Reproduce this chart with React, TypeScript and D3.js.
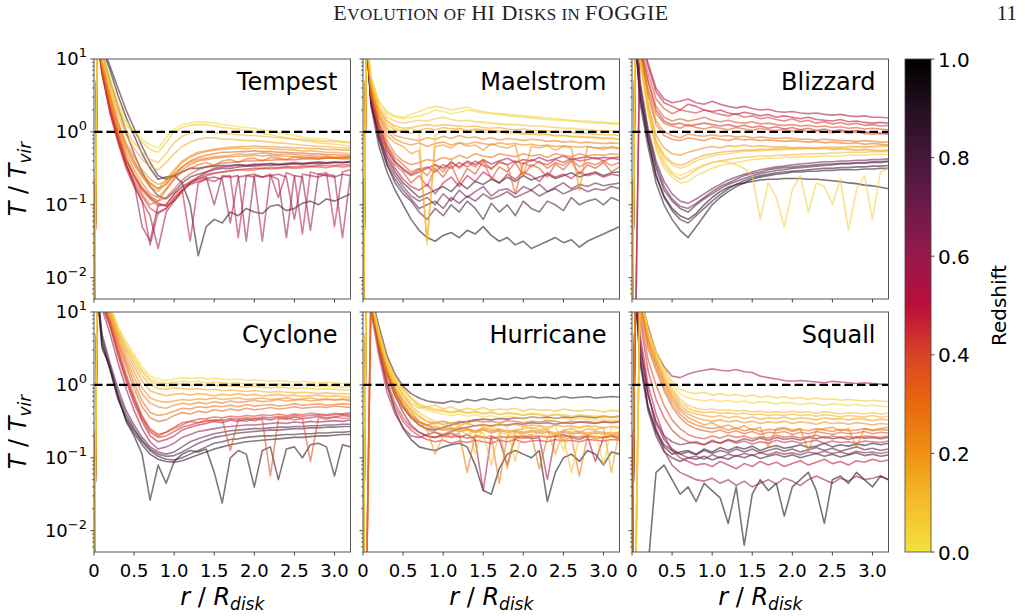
import React from 'react';
import * as d3 from 'd3';

// radius grid shared by every profile, in units of R_disk
const R_GRID = [0, 0.04, 0.1, 0.2, 0.3, 0.4, 0.5, 0.6, 0.7, 0.8, 0.9, 1.0, 1.1, 1.2, 1.3, 1.4, 1.5, 1.6, 1.7,
  1.8, 1.9, 2.0, 2.1, 2.2, 2.3, 2.4, 2.5, 2.6, 2.7, 2.8, 2.9, 3.0, 3.1, 3.2];

// profiles are stored as log10(T / T_vir); one redshift per profile
const tempestZ = [0.02, 0.08, 0.15, 0.2, 0.25, 0.3, 0.4, 0.48, 0.55, 0.62, 0.85, 0.9, 0.75, 0.35, 0.22, 0.28, 0.45, 0.38, 0.12, 0.58];
const tempestLogT = [
  [-3, 1.3, 1.1, 0.75, 0.4, 0.15, 0.02, -0.1, -0.18, -0.22, -0.08, 0.04, 0.1, 0.12, 0.14, 0.13, 0.12, 0.1, 0.09, 0.07, 0.06, 0.05, 0.03, 0.01, -0.01, -0.03, -0.05, -0.07, -0.08, -0.09, -0.1, -0.12, -0.13, -0.14],
  [-3, 1.3, 1.05, 0.7, 0.35, 0.1, -0.02, -0.14, -0.24, -0.28, -0.15, 0.0, 0.06, 0.09, 0.1, 0.1, 0.08, 0.06, 0.05, 0.04, 0.02, 0.0, -0.02, -0.04, -0.06, -0.08, -0.1, -0.12, -0.13, -0.15, -0.16, -0.17, -0.18, -0.2],
  [-3, 1.3, 1.0, 0.6, 0.25, -0.05, -0.22, -0.38, -0.48, -0.52, -0.42, -0.3, -0.2, -0.14, -0.1, -0.08, -0.08, -0.1, -0.1, -0.11, -0.12, -0.12, -0.13, -0.14, -0.15, -0.16, -0.17, -0.18, -0.19, -0.2, -0.2, -0.21, -0.22, -0.22],
  [-3, 1.3, 0.95, 0.55, 0.15, -0.15, -0.35, -0.52, -0.65, -0.72, -0.68, -0.55, -0.42, -0.35, -0.3, -0.27, -0.25, -0.24, -0.23, -0.22, -0.23, -0.22, -0.22, -0.23, -0.24, -0.24, -0.25, -0.26, -0.26, -0.27, -0.28, -0.28, -0.29, -0.3],
  [-3, 1.3, 0.9, 0.45, 0.05, -0.25, -0.45, -0.62, -0.75, -0.82, -0.7, -0.58, -0.48, -0.42, -0.38, -0.36, -0.34, -0.33, -0.32, -0.3, -0.31, -0.3, -0.29, -0.3, -0.31, -0.3, -0.31, -0.32, -0.32, -0.33, -0.33, -0.34, -0.34, -0.35],
  [-3, 1.3, 0.9, 0.4, 0.0, -0.35, -0.6, -0.85, -1.0, -0.95, -0.8, -0.65, -0.55, -0.5, -0.45, -0.42, -0.46, -0.4, -0.38, -0.42, -0.37, -0.36, -0.4, -0.35, -0.36, -0.38, -0.34, -0.36, -0.35, -0.37, -0.34, -0.36, -0.35, -0.34],
  [-3, 1.3, 0.85, 0.3, -0.1, -0.4, -0.62, -0.8, -0.92, -1.02, -1.0, -0.86, -0.75, -0.68, -0.62, -0.58, -0.56, -0.55, -0.54, -0.52, -0.53, -0.52, -0.5, -0.51, -0.5, -0.49, -0.5, -0.49, -0.48, -0.48, -0.49, -0.47, -0.48, -0.47],
  [-3, 1.3, 0.8, 0.25, -0.15, -0.5, -0.75, -0.95, -1.55, -1.1, -1.05, -0.9, -0.8, -1.5, -0.7, -0.65, -0.68, -0.62, -0.6, -1.45, -0.6, -0.58, -0.62, -0.58, -0.9, -0.56, -0.6, -1.4, -0.55, -0.58, -0.56, -1.3, -0.55, -0.52],
  [-3, 1.3, 0.85, 0.35, -0.05, -0.38, -0.6, -0.78, -0.9, -0.98, -1.02, -0.95, -0.82, -0.7, -0.62, -0.55, -0.5, -0.48, -0.47, -0.45, -0.46, -0.44, -0.45, -0.43, -0.44, -0.43, -0.42, -0.43, -0.42, -0.41, -0.42, -0.41, -0.42, -0.4],
  [-3, 1.3, 0.8, 0.3, -0.1, -0.45, -0.7, -1.3, -1.5, -1.0, -1.0, -0.85, -0.75, -0.7, -0.65, -0.62, -1.0, -0.6, -0.62, -0.6, -1.5, -0.6, -0.62, -0.6, -0.65, -1.45, -0.6, -0.62, -1.35, -0.58, -0.6, -0.62, -0.58, -0.6],
  [-3, 1.3, 1.2, 0.9, 0.6, 0.3, 0.05, -0.2, -0.42, -0.6, -0.65, -0.6, -0.55, -0.5, -0.5, -0.48, -0.47, -0.46, -0.46, -0.45, -0.46, -0.45, -0.44, -0.44, -0.45, -0.44, -0.43, -0.44, -0.43, -0.42, -0.43, -0.42, -0.42, -0.41],
  [-3, 1.3, 1.15, 0.85, 0.5, 0.2, -0.05, -0.3, -0.5, -0.65, -0.62, -0.6, -0.7, -1.0, -1.7, -1.3, -1.2, -1.25, -1.1, -1.15, -1.05, -1.1, -1.12, -1.02, -1.0, -1.08, -1.05, -0.98, -0.95, -1.0, -0.92, -0.95, -0.9, -0.85],
  [-3, 1.3, 1.1, 0.7, 0.35, 0.0, -0.3, -0.55, -0.75, -0.88, -0.92, -0.82, -0.7, -0.62, -0.58, -0.55, -0.52, -0.5, -0.5, -0.48, -0.47, -0.47, -0.46, -0.46, -0.45, -0.45, -0.44, -0.44, -0.43, -0.44, -0.43, -0.42, -0.42, -0.42],
  [-3, 1.3, 0.9, 0.5, 0.12, -0.18, -0.4, -0.58, -0.7, -0.78, -0.72, -0.6, -0.48, -0.4, -0.35, -0.32, -0.3, -0.28, -0.28, -0.27, -0.27, -0.26, -0.27, -0.27, -0.28, -0.28, -0.29, -0.29, -0.3, -0.3, -0.31, -0.31, -0.32, -0.32],
  [-3, 1.3, 0.95, 0.5, 0.1, -0.2, -0.42, -0.6, -0.72, -0.78, -0.66, -0.52, -0.4, -0.33, -0.28, -0.26, -0.24, -0.22, -0.21, -0.2, -0.2, -0.19, -0.2, -0.2, -0.21, -0.21, -0.22, -0.22, -0.23, -0.23, -0.24, -0.24, -0.25, -0.25],
  [-3, 1.3, 0.9, 0.42, 0.02, -0.3, -0.52, -0.7, -0.85, -0.9, -0.78, -0.64, -0.52, -0.45, -0.4, -0.38, -0.36, -0.35, -0.34, -0.33, -0.33, -0.32, -0.33, -0.32, -0.33, -0.33, -0.34, -0.34, -0.35, -0.35, -0.36, -0.36, -0.37, -0.37],
  [-3, 1.3, 0.85, 0.3, -0.12, -0.45, -0.68, -0.88, -1.05, -1.12, -1.05, -0.92, -0.8, -0.7, -0.64, -0.6, -0.57, -0.55, -0.53, -0.52, -0.51, -0.5, -0.5, -0.49, -0.49, -0.48, -0.48, -0.47, -0.47, -0.46, -0.46, -0.46, -0.45, -0.45],
  [-3, 1.3, 0.88, 0.35, -0.05, -0.38, -0.58, -0.76, -0.88, -0.95, -0.9, -0.78, -0.66, -0.58, -0.52, -0.48, -0.45, -0.43, -0.42, -0.41, -0.4, -0.4, -0.39, -0.39, -0.38, -0.38, -0.38, -0.37, -0.37, -0.37, -0.36, -0.36, -0.36, -0.35],
  [-3, 1.3, 1.0, 0.65, 0.3, 0.02, -0.15, -0.28, -0.38, -0.42, -0.3, -0.15, -0.06, -0.02, 0.0, 0.0, -0.01, -0.02, -0.03, -0.04, -0.05, -0.05, -0.06, -0.07, -0.08, -0.09, -0.1, -0.1, -0.11, -0.12, -0.13, -0.13, -0.14, -0.15],
  [-3, 1.3, 0.82, 0.28, -0.1, -0.45, -0.72, -0.95, -1.15, -1.6, -1.1, -0.95, -0.8, -0.72, -0.68, -0.64, -0.62, -0.65, -1.25, -0.62, -0.6, -0.62, -1.5, -0.6, -0.58, -0.62, -1.2, -0.58, -0.6, -0.62, -0.58, -0.6, -1.45, -0.58],
];

const maelstromZ = [0.03, 0.1, 0.18, 0.22, 0.3, 0.4, 0.5, 0.58, 0.7, 0.82, 0.92, 0.88, 0.08, 0.25, 0.05, 0.15, 0.35, 0.45, 0.75, 0.25];
const maelstromLogT = [
  [-3, 1.3, 0.75, 0.4, 0.25, 0.2, 0.18, 0.2, 0.22, 0.25, 0.3, 0.28, 0.25, 0.27, 0.3, 0.28, 0.26, 0.25, 0.24, 0.22, 0.21, 0.2, 0.19, 0.18, 0.17, 0.16, 0.16, 0.15, 0.14, 0.13, 0.12, 0.12, 0.11, 0.1],
  [-3, 1.3, 0.7, 0.35, 0.2, 0.15, 0.12, 0.14, 0.16, 0.15, 0.18, 0.2, 0.17, 0.15, 0.16, 0.14, 0.13, 0.12, 0.11, 0.1, 0.1, 0.09, 0.08, 0.08, 0.07, 0.06, 0.05, 0.05, 0.04, 0.03, 0.02, 0.02, 0.01, 0.0],
  [-3, 1.3, 0.65, 0.3, 0.1, 0.02, 0.0, -0.02, 0.02, 0.05, 0.03, 0.06, 0.04, 0.05, 0.02, 0.04, 0.03, 0.02, 0.0, 0.01, -0.01, -0.02, -0.03, -0.02, -0.04, -0.05, -0.05, -0.06, -0.07, -0.07, -0.08, -0.09, -0.09, -0.1],
  [-3, 1.3, 0.6, 0.2, -0.05, -0.15, -0.2, -0.3, -0.25, -1.5, -0.2, -0.18, -0.22, -0.15, -0.2, -0.18, -0.25, -0.16, -0.2, -0.22, -0.18, -0.6, -0.2, -0.22, -0.19, -0.25, -0.2, -0.22, -0.8, -0.2, -0.22, -0.24, -0.2, -0.22],
  [-3, 1.3, 0.55, 0.15, -0.12, -0.3, -0.4, -0.45, -0.42, -0.38, -0.4, -0.35, -0.38, -0.32, -0.36, -0.3, -0.33, -0.35, -0.3, -0.32, -0.34, -0.3, -0.33, -0.31, -0.35, -0.3, -0.32, -0.34, -0.3, -0.33, -0.31, -0.32, -0.3, -0.31],
  [-3, 1.3, 0.5, 0.05, -0.25, -0.45, -0.55, -0.7, -0.6, -0.75, -0.5, -0.62, -0.45, -0.7, -0.5, -0.58, -0.4, -0.65, -0.48, -0.55, -0.42, -0.6, -0.45, -0.5, -0.62, -0.44, -0.52, -0.4, -0.58, -0.45, -0.5, -0.42, -0.55, -0.48],
  [-3, 1.3, 0.5, 0.0, -0.3, -0.5, -0.65, -0.75, -0.8, -0.72, -0.85, -0.7, -0.62, -0.75, -0.6, -0.68, -0.55, -0.62, -0.7, -0.58, -0.65, -0.55, -0.6, -0.68, -0.56, -0.62, -0.58, -0.64, -0.55, -0.6, -0.57, -0.62, -0.58, -0.6],
  [-3, 1.3, 0.55, 0.1, -0.2, -0.4, -0.52, -0.6, -0.55, -0.5, -0.45, -0.5, -0.42, -0.48, -0.4, -0.45, -0.38, -0.44, -0.4, -0.36, -0.42, -0.38, -0.4, -0.35, -0.4, -0.37, -0.33, -0.38, -0.36, -0.34, -0.37, -0.35, -0.36, -0.34],
  [-3, 1.3, 0.45, -0.05, -0.4, -0.6, -0.75, -0.88, -0.95, -0.9, -1.0, -0.85, -0.95, -0.8, -0.9, -0.82, -0.75, -0.88, -0.8, -0.78, -0.85, -0.75, -0.8, -0.72, -0.82, -0.76, -0.7, -0.78, -0.72, -0.75, -0.7, -0.74, -0.72, -0.7],
  [-3, 1.3, 0.4, -0.1, -0.45, -0.7, -0.85, -0.95, -1.1, -1.2, -1.05, -1.15, -1.0, -1.1, -0.95, -1.05, -1.2, -0.98, -1.1, -1.0, -1.15, -0.95, -1.05, -1.1, -0.95, -1.0, -1.08, -0.9, -1.0, -0.95, -0.92, -1.0, -0.9, -0.95],
  [-3, 1.3, 0.35, -0.2, -0.55, -0.8, -1.0, -1.2, -1.35, -1.45, -1.5, -1.42, -1.38, -1.45, -1.35, -1.4, -1.3, -1.42, -1.5, -1.45, -1.55, -1.5, -1.6, -1.55, -1.5, -1.45, -1.52, -1.48, -1.58, -1.5, -1.45, -1.4, -1.35, -1.3],
  [-3, 1.3, 0.4, -0.05, -0.35, -0.55, -0.7, -0.8, -0.9, -0.85, -0.8, -0.75, -0.82, -0.7, -0.78, -0.68, -0.72, -0.65, -0.7, -0.62, -0.68, -0.6, -0.66, -0.62, -0.58, -0.64, -0.6, -0.56, -0.62, -0.58, -0.55, -0.6, -0.56, -0.55],
  [-3, 1.3, 0.7, 0.3, 0.15, 0.05, 0.02, 0.05, 0.0, -1.55, -0.05, 0.02, 0.0, 0.05, -0.02, 0.03, 0.0, -0.02, 0.01, -0.03, -0.01, -0.04, -0.02, -0.05, -0.03, -0.06, -0.05, -0.07, -0.06, -0.08, -0.07, -0.09, -0.08, -0.1],
  [-3, 1.3, 0.6, 0.25, 0.05, -0.05, -0.08, -0.1, -0.12, -0.08, -0.1, -0.06, -0.09, -0.05, -0.08, -0.07, -0.1, -0.08, -0.11, -0.09, -0.1, -0.12, -0.1, -0.11, -0.13, -0.12, -0.14, -0.13, -0.15, -0.14, -0.15, -0.16, -0.15, -0.16],
  [-3, 1.3, 0.75, 0.42, 0.28, 0.22, 0.2, 0.24, 0.28, 0.32, 0.35, 0.33, 0.3, 0.32, 0.34, 0.3, 0.28, 0.26, 0.25, 0.24, 0.23, 0.22, 0.21, 0.2, 0.19, 0.18, 0.17, 0.16, 0.15, 0.15, 0.14, 0.13, 0.12, 0.12],
  [-3, 1.3, 0.68, 0.32, 0.15, 0.08, 0.05, 0.06, 0.08, 0.1, 0.08, 0.1, 0.09, 0.08, 0.07, 0.08, 0.06, 0.05, 0.06, 0.04, 0.03, 0.04, 0.02, 0.02, 0.01, 0.0, 0.0, -0.01, -0.02, -0.02, -0.03, -0.04, -0.04, -0.05],
  [-3, 1.3, 0.52, 0.1, -0.18, -0.35, -0.45, -0.55, -0.5, -0.6, -0.45, -0.55, -0.4, -0.5, -0.42, -0.48, -0.38, -0.52, -0.4, -0.45, -0.85, -0.42, -0.48, -0.4, -0.5, -0.42, -0.46, -0.38, -0.48, -0.42, -0.45, -0.4, -0.46, -0.42],
  [-3, 1.3, 0.5, 0.05, -0.25, -0.42, -0.5, -0.58, -0.52, -0.48, -0.55, -0.45, -0.5, -0.42, -0.48, -0.4, -0.46, -0.5, -0.42, -0.45, -0.4, -0.44, -0.38, -0.42, -0.45, -0.38, -0.42, -0.36, -0.4, -0.38, -0.35, -0.4, -0.36, -0.38],
  [-3, 1.3, 0.42, -0.1, -0.45, -0.65, -0.8, -0.92, -1.05, -1.0, -0.95, -1.05, -0.9, -0.98, -0.88, -0.95, -0.85, -0.92, -0.88, -0.82, -0.9, -0.85, -0.8, -0.88, -0.82, -0.78, -0.85, -0.8, -0.76, -0.82, -0.78, -0.8, -0.75, -0.78],
  [-3, 1.3, 0.6, 0.22, 0.0, -0.1, -0.15, -0.18, -0.15, -0.2, -0.16, -0.14, -0.18, -0.15, -0.17, -0.14, -0.16, -0.18, -0.15, -0.17, -0.16, -0.18, -0.17, -0.19, -0.18, -0.2, -0.19, -0.2, -0.21, -0.2, -0.22, -0.21, -0.22, -0.23],
];

const blizzardZ = [0.42, 0.5, 0.35, 0.3, 0.22, 0.12, 0.05, 0.05, 0.8, 0.9, 0.95, 0.7, 0.45, 0.08, 0.38, 0.28, 0.18, 0.85, 0.75, 0.55];
const blizzardLogT = [
  [-3, 1.3, 1.2, 0.8, 0.45, 0.32, 0.25, 0.3, 0.28, 0.26, 0.3, 0.27, 0.24, 0.22, 0.25, 0.2, 0.22, 0.18, 0.2, 0.17, 0.15, 0.18, 0.14, 0.16, 0.12, 0.14, 0.11, 0.13, 0.1, 0.12, 0.09, 0.1, 0.08, 0.09],
  [-3, -3, 1.3, 0.9, 0.55, 0.4, 0.35, 0.3, 0.38, 0.35, 0.3, 0.28, 0.3, 0.26, 0.24, 0.27, 0.25, 0.22, 0.24, 0.2, 0.22, 0.2, 0.18, 0.2, 0.17, 0.16, 0.15, 0.17, 0.14, 0.15, 0.13, 0.12, 0.13, 0.12],
  [-3, 1.3, 1.1, 0.6, 0.25, 0.12, 0.08, 0.05, 0.1, 0.06, 0.04, 0.07, 0.05, 0.03, 0.06, 0.04, 0.02, 0.05, 0.03, 0.02, 0.04, 0.01, 0.03, 0.0, 0.02, 0.0, -0.01, 0.01, -0.02, 0.0, -0.02, -0.03, -0.02, -0.03],
  [-3, 1.3, 1.1, 0.5, 0.1, -0.05, -0.1, -0.12, -0.08, -0.1, -0.12, -0.08, -0.1, -0.12, -0.09, -0.11, -0.1, -0.12, -0.11, -0.12, -0.13, -0.12, -0.13, -0.14, -0.13, -0.15, -0.14, -0.15, -0.16, -0.15, -0.17, -0.16, -0.17, -0.18],
  [-3, 1.3, 1.05, 0.4, -0.05, -0.22, -0.3, -0.32, -0.28, -0.25, -0.22, -0.2, -0.22, -0.19, -0.2, -0.18, -0.2, -0.19, -0.2, -0.21, -0.2, -0.22, -0.21, -0.22, -0.23, -0.22, -0.24, -0.23, -0.24, -0.25, -0.24, -0.25, -0.26, -0.25],
  [-3, 1.3, 1.0, 0.3, -0.2, -0.45, -0.58, -0.65, -0.6, -0.52, -0.46, -0.42, -0.4, -0.38, -0.36, -0.35, -0.34, -0.33, -0.33, -0.32, -0.32, -0.31, -0.31, -0.3, -0.3, -0.3, -0.29, -0.29, -0.28, -0.28, -0.28, -0.27, -0.27, -0.27],
  [-3, 1.3, 0.95, 0.25, -0.25, -0.5, -0.62, -0.7, -0.68, -0.6, -0.55, -0.5, -0.46, -0.44, -0.42, -0.4, -0.38, -0.37, -0.36, -0.36, -0.35, -0.35, -0.34, -0.34, -0.34, -0.33, -0.33, -0.33, -0.32, -0.32, -0.32, -0.31, -0.31, -0.31],
  [-3, 1.3, 1.0, 0.35, -0.15, -0.4, -0.55, -0.6, -0.55, -0.5, -0.45, -0.42, -0.4, -0.42, -0.45, -0.5, -0.6, -1.2, -0.7, -0.9, -1.3, -0.8, -0.6, -1.1, -0.7, -0.75, -1.0, -0.65, -1.35, -0.8, -0.6, -1.2, -0.55, -0.5],
  [-3, 1.3, 0.6, -0.05, -0.5, -0.8, -0.95, -1.05, -1.1, -1.0, -0.92, -0.85, -0.78, -0.72, -0.68, -0.64, -0.6, -0.57, -0.55, -0.53, -0.52, -0.5, -0.49, -0.48, -0.47, -0.46, -0.45, -0.44, -0.44, -0.43, -0.43, -0.42, -0.42, -0.41],
  [-3, 1.3, 0.4, -0.2, -0.7, -1.0, -1.2, -1.35, -1.45, -1.3, -1.15, -1.0, -0.9, -0.82, -0.75, -0.7, -0.65, -0.62, -0.6, -0.58, -0.57, -0.55, -0.55, -0.54, -0.54, -0.53, -0.53, -0.52, -0.52, -0.52, -0.51, -0.51, -0.5, -0.5],
  [-3, 1.3, 0.5, -0.1, -0.6, -0.88, -1.05, -1.15, -1.2, -1.12, -1.0, -0.9, -0.82, -0.76, -0.72, -0.7, -0.68, -0.66, -0.65, -0.65, -0.64, -0.64, -0.64, -0.65, -0.65, -0.66, -0.67, -0.68, -0.7, -0.71, -0.73, -0.74, -0.76, -0.78],
  [-3, 1.3, 0.7, 0.05, -0.4, -0.68, -0.85, -0.95, -0.98, -0.92, -0.85, -0.78, -0.72, -0.66, -0.62, -0.58, -0.55, -0.52, -0.5, -0.48, -0.47, -0.45, -0.44, -0.43, -0.42, -0.41, -0.41, -0.4, -0.4, -0.39, -0.39, -0.38, -0.38, -0.37],
  [-3, 1.3, 1.15, 0.7, 0.3, 0.15, 0.1, 0.12, 0.08, 0.1, 0.12, 0.1, 0.08, 0.1, 0.07, 0.09, 0.06, 0.08, 0.05, 0.07, 0.04, 0.06, 0.03, 0.05, 0.02, 0.04, 0.01, 0.03, 0.0, 0.02, -0.01, 0.0, -0.02, -0.02],
  [-3, 1.3, 1.0, 0.3, -0.15, -0.35, -0.45, -0.5, -0.46, -0.4, -0.36, -0.33, -0.31, -0.3, -0.28, -0.27, -0.26, -0.26, -0.25, -0.25, -0.24, -0.24, -0.24, -0.23, -0.23, -0.23, -0.22, -0.22, -0.22, -0.21, -0.21, -0.21, -0.2, -0.2],
  [-3, 1.3, 1.15, 0.7, 0.35, 0.2, 0.15, 0.18, 0.15, 0.17, 0.2, 0.16, 0.14, 0.16, 0.13, 0.12, 0.14, 0.11, 0.12, 0.1, 0.09, 0.1, 0.08, 0.09, 0.07, 0.08, 0.06, 0.07, 0.05, 0.06, 0.04, 0.05, 0.04, 0.03],
  [-3, 1.3, 1.1, 0.55, 0.15, 0.0, -0.05, -0.08, -0.03, -0.05, -0.06, -0.04, -0.06, -0.05, -0.07, -0.06, -0.08, -0.07, -0.08, -0.09, -0.08, -0.09, -0.1, -0.1, -0.11, -0.1, -0.11, -0.12, -0.12, -0.13, -0.12, -0.13, -0.14, -0.14],
  [-3, 1.3, 1.02, 0.35, -0.12, -0.32, -0.42, -0.46, -0.42, -0.36, -0.32, -0.3, -0.28, -0.27, -0.26, -0.25, -0.25, -0.24, -0.24, -0.23, -0.23, -0.23, -0.22, -0.22, -0.22, -0.21, -0.21, -0.21, -0.2, -0.2, -0.2, -0.2, -0.19, -0.19],
  [-3, 1.3, 0.5, -0.12, -0.6, -0.9, -1.08, -1.2, -1.25, -1.15, -1.05, -0.95, -0.86, -0.78, -0.72, -0.67, -0.63, -0.6, -0.58, -0.56, -0.55, -0.54, -0.53, -0.52, -0.51, -0.5, -0.5, -0.49, -0.49, -0.48, -0.48, -0.47, -0.47, -0.46],
  [-3, 1.3, 0.65, 0.0, -0.45, -0.75, -0.92, -1.02, -1.05, -0.98, -0.9, -0.82, -0.75, -0.7, -0.65, -0.6, -0.57, -0.55, -0.52, -0.5, -0.49, -0.48, -0.47, -0.46, -0.45, -0.44, -0.44, -0.43, -0.43, -0.42, -0.42, -0.41, -0.41, -0.4],
  [-3, -3, 1.3, 0.95, 0.6, 0.45, 0.4, 0.42, 0.45, 0.4, 0.38, 0.42, 0.38, 0.35, 0.33, 0.35, 0.32, 0.3, 0.31, 0.28, 0.27, 0.28, 0.26, 0.25, 0.26, 0.24, 0.23, 0.24, 0.22, 0.21, 0.22, 0.2, 0.2, 0.19],
];

const cycloneZ = [0.03, 0.1, 0.18, 0.25, 0.32, 0.42, 0.52, 0.62, 0.85, 0.92, 0.75, 0.38, 0.15, 0.06, 0.22, 0.3, 0.45, 0.8, 0.9];
const cycloneLogT = [
  [-3, 1.3, 1.3, 1.1, 0.8, 0.6, 0.42, 0.25, 0.12, 0.08, 0.06, 0.08, 0.1, 0.09, 0.1, 0.08, 0.09, 0.08, 0.07, 0.08, 0.06, 0.07, 0.06, 0.05, 0.06, 0.05, 0.04, 0.05, 0.04, 0.03, 0.04, 0.03, 0.02, 0.02],
  [-3, 1.3, 1.3, 1.05, 0.75, 0.52, 0.35, 0.18, 0.05, 0.0, -0.02, 0.0, 0.02, 0.0, 0.01, -0.01, 0.0, -0.02, -0.01, -0.02, -0.03, -0.02, -0.03, -0.04, -0.03, -0.04, -0.05, -0.04, -0.05, -0.06, -0.05, -0.06, -0.07, -0.07],
  [-3, 1.3, 1.25, 1.0, 0.7, 0.45, 0.25, 0.05, -0.08, -0.12, -0.15, -0.13, -0.12, -0.14, -0.12, -0.13, -0.15, -0.13, -0.14, -0.12, -0.14, -0.13, -0.15, -0.14, -0.13, -0.15, -0.14, -0.16, -0.15, -0.14, -0.16, -0.15, -0.16, -0.17],
  [-3, 1.3, 1.2, 0.95, 0.62, 0.35, 0.1, -0.12, -0.25, -0.3, -0.32, -0.28, -0.25, -0.27, -0.24, -0.26, -0.23, -0.25, -0.22, -0.24, -0.23, -0.21, -0.23, -0.22, -0.2, -0.22, -0.21, -0.2, -0.22, -0.21, -0.2, -0.21, -0.2, -0.22],
  [-3, 1.3, 1.2, 0.9, 0.55, 0.25, -0.05, -0.3, -0.45, -0.5, -0.48, -0.42, -0.38, -0.4, -0.36, -0.38, -0.34, -0.36, -0.33, -0.35, -0.32, -0.34, -0.33, -0.31, -0.33, -0.32, -0.3, -0.32, -0.31, -0.3, -0.31, -0.29, -0.3, -0.31],
  [-3, 1.3, 1.15, 0.85, 0.5, 0.15, -0.15, -0.42, -0.6, -0.68, -0.65, -0.58, -0.52, -0.5, -0.47, -0.46, -0.44, -0.45, -0.43, -0.44, -0.42, -0.43, -0.41, -0.42, -0.4, -0.42, -0.4, -0.41, -0.39, -0.4, -0.41, -0.39, -0.4, -0.38],
  [-3, 1.3, 1.1, 0.8, 0.4, 0.05, -0.25, -0.5, -0.7, -0.78, -0.75, -0.7, -0.62, -0.58, -0.55, -0.53, -0.5, -0.52, -0.48, -0.5, -0.47, -0.49, -0.46, -0.48, -0.45, -0.47, -0.44, -0.46, -0.45, -0.43, -0.45, -0.44, -0.42, -0.43],
  [-3, 1.3, 1.05, 0.7, 0.3, -0.05, -0.35, -0.6, -0.78, -0.88, -0.85, -0.8, -0.72, -0.68, -0.64, -0.62, -0.6, -0.58, -0.57, -0.56, -0.55, -0.55, -0.54, -0.53, -0.52, -0.53, -0.51, -0.52, -0.5, -0.51, -0.5, -0.49, -0.5, -0.48],
  [-3, 1.3, 0.6, 0.2, -0.2, -0.45, -0.62, -0.78, -0.9, -0.98, -1.02, -1.03, -1.0, -0.95, -0.9, -0.85, -0.8, -0.78, -0.75, -0.74, -0.72, -0.71, -0.7, -0.7, -0.69, -0.68, -0.68, -0.67, -0.67, -0.66, -0.66, -0.65, -0.65, -0.64],
  [-3, 1.3, 0.5, 0.25, -0.15, -0.5, -0.7, -0.95, -1.58, -1.1, -1.35, -1.05, -0.95, -0.9, -0.92, -0.88, -1.2, -1.62, -1.0, -0.9, -0.95, -1.4, -0.9, -0.85, -1.3, -0.88, -0.85, -1.0, -0.82, -0.8, -0.85, -1.25, -0.82, -0.85],
  [-3, 1.3, 0.7, 0.3, -0.05, -0.35, -0.55, -0.72, -0.85, -0.92, -0.95, -0.92, -0.85, -0.78, -0.74, -0.7, -0.67, -0.65, -0.63, -0.62, -0.61, -0.6, -0.6, -0.59, -0.58, -0.58, -0.57, -0.57, -0.56, -0.56, -0.55, -0.55, -0.54, -0.54],
  [-3, 1.3, 1.15, 0.85, 0.45, 0.1, -0.2, -0.45, -0.62, -0.7, -0.65, -0.6, -0.55, -0.5, -0.52, -0.48, -0.5, -0.47, -0.9, -0.48, -0.5, -0.46, -0.48, -1.25, -0.47, -0.45, -0.48, -0.46, -1.05, -0.45, -0.47, -0.44, -0.46, -0.45],
  [-3, 1.3, 1.3, 1.05, 0.72, 0.5, 0.3, 0.12, 0.0, -0.05, -0.06, -0.04, -0.05, -0.06, -0.05, -0.07, -0.06, -0.08, -0.07, -0.08, -0.09, -0.08, -0.09, -0.1, -0.09, -0.1, -0.11, -0.1, -0.11, -0.12, -0.11, -0.12, -0.12, -0.13],
  [-3, 1.3, 1.3, 1.08, 0.78, 0.56, 0.38, 0.2, 0.08, 0.04, 0.02, 0.04, 0.05, 0.04, 0.05, 0.03, 0.04, 0.03, 0.02, 0.03, 0.01, 0.02, 0.01, 0.0, 0.01, 0.0, -0.01, 0.0, -0.01, -0.02, -0.01, -0.02, -0.03, -0.03],
  [-3, 1.3, 1.22, 0.98, 0.66, 0.4, 0.18, -0.04, -0.18, -0.22, -0.24, -0.22, -0.2, -0.21, -0.19, -0.2, -0.18, -0.2, -0.19, -0.18, -0.2, -0.19, -0.18, -0.2, -0.19, -0.18, -0.2, -0.19, -0.18, -0.2, -0.19, -0.2, -0.19, -0.2],
  [-3, 1.3, 1.18, 0.9, 0.58, 0.3, 0.02, -0.22, -0.38, -0.42, -0.4, -0.36, -0.32, -0.33, -0.3, -0.31, -0.29, -0.3, -0.28, -0.3, -0.27, -0.29, -0.28, -0.27, -0.29, -0.28, -0.26, -0.28, -0.27, -0.26, -0.28, -0.27, -0.26, -0.27],
  [-3, 1.3, 1.12, 0.82, 0.45, 0.1, -0.2, -0.46, -0.65, -0.72, -0.7, -0.64, -0.58, -0.55, -0.52, -0.5, -0.48, -0.49, -0.46, -0.47, -0.45, -0.46, -0.44, -0.45, -0.43, -0.44, -0.42, -0.43, -0.42, -0.41, -0.42, -0.41, -0.4, -0.41],
  [-3, 1.3, 0.65, 0.25, -0.12, -0.4, -0.6, -0.76, -0.88, -0.95, -0.98, -0.97, -0.92, -0.86, -0.8, -0.76, -0.72, -0.7, -0.68, -0.66, -0.65, -0.64, -0.63, -0.62, -0.62, -0.61, -0.6, -0.6, -0.59, -0.59, -0.58, -0.58, -0.57, -0.57],
  [-3, 1.3, 0.55, 0.22, -0.18, -0.48, -0.66, -0.82, -0.95, -1.02, -1.05, -1.06, -1.04, -1.0, -0.96, -0.92, -0.88, -0.85, -0.82, -0.8, -0.78, -0.77, -0.76, -0.75, -0.74, -0.73, -0.72, -0.72, -0.71, -0.7, -0.7, -0.69, -0.68, -0.68],
];

const hurricaneZ = [0.03, 0.08, 0.15, 0.22, 0.28, 0.35, 0.45, 0.55, 0.7, 0.85, 0.95, 0.12, 0.18, 0.05, 0.2, 0.1, 0.3, 0.42, 0.78];
const hurricaneLogT = [
  [-3, 1.3, 1.2, 0.7, 0.3, 0.08, -0.08, -0.2, -0.3, -0.35, -0.38, -0.4, -0.42, -0.4, -0.43, -0.41, -0.44, -0.42, -0.45, -0.43, -0.44, -0.46, -0.44, -0.45, -0.47, -0.45, -0.46, -0.48, -0.46, -0.47, -0.48, -0.47, -0.49, -0.48],
  [-3, 1.3, 1.15, 0.65, 0.25, 0.02, -0.15, -0.28, -0.38, -0.45, -0.5, -0.55, -0.52, -0.58, -0.5, -0.95, -0.55, -0.6, -0.52, -0.58, -1.05, -0.55, -0.6, -0.57, -0.62, -0.55, -0.9, -0.58, -0.6, -0.56, -0.62, -1.1, -0.58, -0.6],
  [-3, 1.3, 1.2, 0.75, 0.35, 0.12, -0.05, -0.18, -0.28, -0.32, -0.35, -0.36, -0.38, -0.36, -0.39, -0.37, -0.4, -0.38, -0.41, -0.39, -0.4, -0.42, -0.4, -0.41, -0.43, -0.41, -0.42, -0.44, -0.42, -0.43, -0.44, -0.43, -0.45, -0.44],
  [-3, 1.3, 1.1, 0.6, 0.2, -0.05, -0.25, -0.4, -0.5, -0.55, -0.58, -0.6, -0.58, -0.62, -0.6, -0.63, -0.6, -0.64, -0.61, -0.63, -0.62, -0.65, -0.62, -0.64, -0.63, -0.66, -0.63, -0.65, -0.64, -0.66, -0.64, -0.65, -0.66, -0.65],
  [-3, -3, 1.3, 0.55, 0.15, -0.1, -0.3, -0.45, -0.55, -0.62, -0.65, -0.68, -0.7, -0.66, -1.2, -0.68, -0.72, -0.7, -1.35, -0.7, -0.74, -0.72, -0.68, -1.15, -0.72, -0.7, -0.75, -0.72, -1.25, -0.7, -0.74, -0.72, -0.7, -0.75],
  [-3, 1.3, 1.05, 0.5, 0.1, -0.15, -0.32, -0.45, -0.52, -0.55, -0.52, -0.5, -0.53, -0.5, -0.52, -0.49, -0.51, -0.5, -0.52, -0.49, -0.5, -0.52, -0.5, -0.51, -0.49, -0.5, -0.52, -0.5, -0.51, -0.5, -0.52, -0.5, -0.51, -0.5],
  [-3, -3, 1.3, 0.45, 0.0, -0.3, -0.5, -0.62, -0.7, -0.75, -0.78, -0.76, -0.8, -0.77, -0.79, -0.76, -0.78, -0.8, -0.76, -0.78, -0.75, -0.79, -0.77, -0.76, -0.78, -0.75, -0.77, -0.76, -0.78, -0.75, -0.76, -0.77, -0.75, -0.76],
  [-3, 1.3, 1.0, 0.4, -0.1, -0.4, -0.58, -0.7, -0.72, -0.68, -0.65, -0.7, -0.66, -0.72, -0.68, -0.75, -1.45, -0.7, -0.75, -1.1, -0.72, -0.7, -0.74, -0.72, -1.3, -0.7, -0.68, -0.72, -0.75, -0.7, -1.05, -0.72, -0.7, -0.73],
  [-3, 1.3, 1.1, 0.55, 0.15, -0.15, -0.38, -0.55, -0.65, -0.7, -0.72, -0.68, -0.64, -0.6, -0.58, -0.56, -0.55, -0.56, -0.54, -0.55, -0.53, -0.54, -0.52, -0.53, -0.52, -0.54, -0.52, -0.53, -0.51, -0.52, -0.53, -0.51, -0.52, -0.51],
  [-3, 1.3, 1.25, 0.8, 0.4, 0.15, -0.02, -0.12, -0.18, -0.22, -0.24, -0.25, -0.22, -0.24, -0.2, -0.22, -0.19, -0.21, -0.18, -0.2, -0.17, -0.19, -0.16, -0.18, -0.17, -0.19, -0.16, -0.18, -0.17, -0.16, -0.18, -0.17, -0.16, -0.17],
  [-3, 1.3, 1.1, 0.5, 0.0, -0.35, -0.6, -0.75, -0.85, -0.88, -0.9, -0.85, -0.82, -0.8, -0.85, -1.1, -1.45, -1.5, -1.15, -0.95, -0.9, -0.95, -1.0, -0.9, -1.6, -1.2, -1.0, -0.95, -1.05, -0.9, -0.95, -1.1, -0.92, -0.95],
  [-3, 1.3, 1.2, 0.7, 0.3, 0.05, -0.12, -0.25, -0.32, -0.3, -0.28, -0.33, -0.3, -0.35, -0.32, -0.34, -0.31, -0.35, -0.33, -0.34, -0.32, -0.36, -0.33, -0.35, -0.34, -0.36, -0.33, -0.35, -0.36, -0.34, -0.35, -0.37, -0.35, -0.36],
  [-3, 1.3, 1.15, 0.65, 0.22, -0.05, -0.22, -0.36, -0.5, -0.62, -0.95, -0.7, -0.62, -0.58, -0.6, -0.65, -0.58, -0.62, -0.6, -1.15, -0.62, -0.6, -0.58, -0.62, -0.6, -0.95, -0.62, -0.6, -0.65, -0.6, -0.62, -0.58, -1.2, -0.62],
  [-3, 1.3, 1.2, 0.72, 0.32, 0.1, -0.06, -0.18, -0.26, -0.3, -0.33, -0.35, -0.37, -0.35, -0.38, -0.36, -0.39, -0.37, -0.4, -0.38, -0.39, -0.41, -0.39, -0.4, -0.42, -0.4, -0.41, -0.43, -0.41, -0.42, -0.43, -0.42, -0.44, -0.43],
  [-3, 1.3, 1.12, 0.62, 0.22, -0.02, -0.2, -0.34, -0.44, -0.5, -0.52, -0.54, -0.52, -0.55, -0.53, -0.56, -0.54, -0.57, -0.55, -0.56, -0.54, -0.57, -0.55, -0.56, -0.58, -0.55, -0.57, -0.56, -0.58, -0.56, -0.57, -0.59, -0.57, -0.58],
  [-3, 1.3, 1.15, 0.68, 0.28, 0.04, -0.14, -0.3, -0.42, -0.5, -0.55, -0.6, -0.65, -0.62, -0.68, -0.64, -0.66, -1.1, -0.65, -0.68, -0.66, -0.7, -0.68, -0.66, -0.7, -0.68, -0.72, -1.2, -0.7, -0.68, -0.72, -0.7, -0.68, -0.72],
  [-3, -3, 1.3, 0.58, 0.18, -0.08, -0.28, -0.42, -0.5, -0.56, -0.6, -0.62, -0.6, -0.64, -0.62, -0.65, -0.62, -0.66, -0.63, -0.65, -0.64, -0.67, -0.64, -0.66, -0.65, -0.68, -0.65, -0.67, -0.66, -0.68, -0.66, -0.67, -0.68, -0.67],
  [-3, -3, 1.3, 0.5, 0.05, -0.25, -0.45, -0.58, -0.65, -0.7, -0.72, -0.7, -0.72, -0.7, -0.73, -0.71, -0.72, -0.74, -0.71, -0.72, -0.7, -0.73, -0.71, -0.7, -0.72, -0.7, -0.71, -0.7, -0.72, -0.7, -0.71, -0.72, -0.7, -0.71],
  [-3, 1.3, 1.15, 0.6, 0.2, -0.1, -0.3, -0.45, -0.55, -0.6, -0.62, -0.58, -0.55, -0.52, -0.5, -0.48, -0.47, -0.48, -0.46, -0.47, -0.45, -0.46, -0.44, -0.45, -0.44, -0.46, -0.44, -0.45, -0.43, -0.44, -0.45, -0.43, -0.44, -0.43],
];

const squallZ = [0.03, 0.1, 0.18, 0.25, 0.35, 0.45, 0.55, 0.62, 0.7, 0.85, 0.95, 0.9, 0.08, 0.5, 0.14, 0.22, 0.3, 0.4, 0.8, 0.65];
const squallLogT = [
  [-3, -3, 1.3, 0.75, 0.45, 0.2, 0.0, -0.12, -0.18, -0.2, -0.22, -0.2, -0.23, -0.21, -0.24, -0.22, -0.25, -0.23, -0.24, -0.26, -0.24, -0.25, -0.27, -0.25, -0.26, -0.28, -0.26, -0.27, -0.28, -0.27, -0.29, -0.28, -0.29, -0.3],
  [-3, -3, 1.3, 0.7, 0.4, 0.15, -0.05, -0.2, -0.28, -0.32, -0.34, -0.33, -0.35, -0.34, -0.36, -0.35, -0.37, -0.36, -0.38, -0.37, -0.38, -0.36, -0.38, -0.37, -0.39, -0.37, -0.38, -0.4, -0.38, -0.39, -0.4, -0.38, -0.4, -0.39],
  [-3, -3, 1.3, 0.65, 0.35, 0.08, -0.12, -0.28, -0.36, -0.4, -0.42, -0.44, -0.42, -0.45, -0.43, -0.46, -0.44, -0.47, -0.45, -0.46, -0.44, -0.47, -0.45, -0.46, -0.48, -0.45, -0.47, -0.46, -0.48, -0.46, -0.47, -0.49, -0.47, -0.48],
  [-3, 1.3, 1.2, 0.6, 0.3, 0.02, -0.2, -0.35, -0.45, -0.5, -0.55, -0.52, -0.58, -0.55, -0.6, -0.56, -0.62, -0.58, -0.85, -0.6, -0.58, -0.62, -0.6, -0.9, -0.62, -0.6, -0.58, -0.63, -0.6, -0.85, -0.6, -0.62, -0.6, -0.58],
  [-3, 1.3, 1.1, 0.5, 0.2, -0.08, -0.3, -0.45, -0.55, -0.6, -0.63, -0.65, -0.62, -0.66, -0.63, -0.67, -0.64, -0.68, -0.65, -0.66, -0.64, -0.68, -0.65, -0.67, -0.64, -0.66, -0.68, -0.65, -0.67, -0.66, -0.64, -0.67, -0.65, -0.66],
  [-3, 1.3, 0.9, 0.2, -0.2, -0.45, -0.62, -0.72, -0.78, -0.8, -0.82, -0.78, -0.8, -0.76, -0.8, -0.77, -0.81, -0.78, -0.8, -0.76, -0.79, -0.77, -0.8, -0.78, -0.76, -0.8, -0.77, -0.79, -0.78, -0.8, -0.77, -0.78, -0.79, -0.77],
  [-3, 1.3, 1.25, 0.8, 0.45, 0.25, 0.12, 0.1, 0.15, 0.18, 0.2, 0.22, 0.2, 0.19, 0.21, 0.18, 0.17, 0.12, 0.1, 0.08, 0.06, 0.05, 0.06, 0.05, 0.04, 0.03, 0.05, 0.04, 0.03, 0.02, 0.03, 0.02, 0.01, 0.0],
  [-3, 1.3, 0.6, -0.1, -0.6, -0.9, -1.1, -1.2, -1.25, -1.3, -1.32, -1.28, -1.35, -1.3, -1.38, -1.32, -1.4, -1.35, -1.3, -1.36, -1.28, -1.32, -1.38, -1.3, -1.25, -1.3, -1.35, -1.28, -1.32, -1.25, -1.3, -1.28, -1.25, -1.3],
  [-3, 1.3, 0.5, -0.15, -0.5, -0.7, -0.78, -0.82, -0.8, -0.78, -0.82, -0.76, -0.8, -0.75, -0.78, -0.74, -0.77, -0.73, -0.76, -0.72, -0.75, -0.73, -0.76, -0.72, -0.74, -0.71, -0.74, -0.72, -0.75, -0.71, -0.73, -0.72, -0.74, -0.72],
  [-3, 1.3, 0.3, -0.35, -0.7, -0.92, -1.0, -1.05, -1.0, -1.02, -0.98, -1.03, -0.99, -1.02, -0.97, -1.0, -0.96, -1.01, -0.98, -0.95, -0.99, -0.96, -1.0, -0.97, -0.94, -0.98, -0.95, -0.99, -0.96, -0.93, -0.97, -0.95, -0.98, -0.96],
  [-3, -3, -3, -2.5, -1.2, -1.1, -1.3, -1.5, -1.4, -1.6, -1.35, -1.45, -1.55, -1.9, -1.4, -2.2, -1.5, -1.3, -1.45, -1.35, -1.8, -1.4, -1.3, -1.2, -1.45, -1.9, -1.3, -1.25, -1.35, -1.2, -1.3, -1.4, -1.25, -1.3],
  [-3, 1.3, 0.4, -0.3, -0.65, -0.85, -0.95, -0.92, -0.9, -0.95, -0.88, -0.92, -0.86, -0.9, -0.85, -0.88, -0.84, -0.9, -0.86, -0.83, -0.87, -0.85, -0.82, -0.86, -0.84, -0.8, -0.85, -0.82, -0.84, -0.81, -0.83, -0.8, -0.82, -0.8],
  [-3, -3, 1.3, 0.75, 0.45, 0.22, 0.05, -0.06, -0.1, -0.12, -0.1, -0.14, -0.12, -0.15, -0.13, -0.16, -0.14, -0.17, -0.15, -0.18, -0.16, -0.19, -0.17, -0.2, -0.18, -0.2, -0.19, -0.21, -0.2, -0.21, -0.22, -0.21, -0.22, -0.23],
  [-3, 1.3, 0.7, 0.0, -0.4, -0.7, -0.9, -1.0, -1.05, -1.1, -1.08, -1.12, -1.05, -1.1, -1.15, -1.08, -1.12, -1.05, -1.1, -1.06, -1.12, -1.08, -1.04, -1.1, -1.06, -1.02, -1.08, -1.05, -1.1, -1.04, -1.06, -1.02, -1.05, -1.03],
  [-3, -3, 1.3, 0.68, 0.38, 0.12, -0.08, -0.24, -0.32, -0.36, -0.38, -0.37, -0.39, -0.38, -0.4, -0.39, -0.41, -0.4, -0.42, -0.41, -0.42, -0.4, -0.42, -0.41, -0.43, -0.41, -0.42, -0.44, -0.42, -0.43, -0.44, -0.42, -0.44, -0.43],
  [-3, 1.3, 1.22, 0.62, 0.32, 0.05, -0.16, -0.32, -0.4, -0.45, -0.48, -0.5, -0.48, -0.51, -0.49, -0.52, -0.5, -0.53, -0.51, -0.52, -0.5, -0.53, -0.51, -0.52, -0.54, -0.51, -0.53, -0.52, -0.54, -0.52, -0.53, -0.55, -0.53, -0.54],
  [-3, 1.3, 1.15, 0.55, 0.25, -0.03, -0.25, -0.4, -0.5, -0.55, -0.58, -0.6, -0.58, -0.62, -0.59, -0.63, -0.6, -0.64, -0.61, -0.62, -0.6, -0.64, -0.61, -0.63, -0.6, -0.62, -0.64, -0.61, -0.63, -0.62, -0.6, -0.63, -0.61, -0.62],
  [-3, 1.3, 1.0, 0.35, 0.0, -0.28, -0.48, -0.6, -0.68, -0.72, -0.74, -0.7, -0.73, -0.69, -0.72, -0.7, -0.74, -0.71, -0.73, -0.69, -0.72, -0.7, -0.73, -0.71, -0.69, -0.73, -0.7, -0.72, -0.71, -0.73, -0.7, -0.71, -0.72, -0.7],
  [-3, 1.3, 0.35, -0.3, -0.62, -0.82, -0.9, -0.95, -0.92, -0.96, -0.9, -0.94, -0.9, -0.93, -0.88, -0.92, -0.88, -0.93, -0.9, -0.87, -0.91, -0.88, -0.92, -0.89, -0.86, -0.9, -0.87, -0.91, -0.88, -0.85, -0.89, -0.87, -0.9, -0.88],
  [-3, 1.3, 0.55, -0.12, -0.52, -0.75, -0.88, -0.95, -1.0, -0.98, -1.02, -0.96, -1.0, -0.95, -0.98, -0.94, -0.97, -0.93, -0.96, -0.92, -0.95, -0.93, -0.96, -0.92, -0.94, -0.91, -0.94, -0.92, -0.95, -0.91, -0.93, -0.92, -0.94, -0.92],
];

const HALO_NAMES = ['Tempest', 'Maelstrom', 'Blizzard', 'Cyclone', 'Hurricane', 'Squall'];
const HALO_Z = [tempestZ, maelstromZ, blizzardZ, cycloneZ, hurricaneZ, squallZ];
const HALO_LOGT = [tempestLogT, maelstromLogT, blizzardLogT, cycloneLogT, hurricaneLogT, squallLogT];

const X_DOMAIN = [0, 3.2];
const Y_DOMAIN = [0.0051, 10];
const CBAR_TICKS = [0, 0.2, 0.4, 0.6, 0.8, 1.0];

// redshift colour map (yellow -> orange -> crimson -> black)
const CMAP_STOPS = [0, 0.1, 0.2, 0.3, 0.4, 0.5, 0.6, 0.7, 0.8, 0.9, 1.0];
const CMAP_COLORS = ['#f2e13c', '#f4bd2a', '#f09112', '#e8680e', '#da4325', '#bb0d3a', '#96194b', '#6d1a49', '#46173a', '#22101f', '#000000'];

const FONT = 'DejaVu Sans';
const PW = 256.5;
const PH = 240;
const PANEL_X = [94, 363, 632];
const PANEL_Y = [59, 312];

const cmap = d3.scaleLinear<string>().domain(CMAP_STOPS).range(CMAP_COLORS).interpolate(d3.interpolateRgb);
const xScale = d3.scaleLinear().domain(X_DOMAIN).range([0, PW]);
const yScale = d3.scaleLog().domain(Y_DOMAIN).range([PH, 0]);

const profileLine = d3
  .line<number>()
  .defined((_, i) => i < R_GRID.length)
  .x((_, i) => xScale(R_GRID[i]))
  .y((v) => yScale(Math.pow(10, v)));

function Panel({ idx }: { idx: number }) {
  const col = idx % 3;
  const row = Math.floor(idx / 3);
  const px = PANEL_X[col];
  const py = PANEL_Y[row];
  const zs = HALO_Z[idx];
  const profiles = HALO_LOGT[idx];
  const order = d3.range(profiles.length).sort((a, b) => zs[b] - zs[a]);
  const yTicks = yScale.ticks();
  const isMajor = (t: number) => Math.abs(Math.log10(t) - Math.round(Math.log10(t))) < 1e-6;
  const xTicks = xScale.ticks(7);
  const clipId = `clip-${HALO_NAMES[idx]}`;

  return (
    <g transform={`translate(${px},${py})`}>
      <defs>
        <clipPath id={clipId}>
          <rect x={0} y={0} width={PW} height={PH} />
        </clipPath>
      </defs>
      <g clipPath={`url(#${clipId})`}>
        {order.map((k) => (
          <path
            key={k}
            d={profileLine(profiles[k]) || ''}
            fill="none"
            stroke={cmap(zs[k])}
            strokeOpacity={0.56}
            strokeWidth={1.6}
            strokeLinejoin="round"
          />
        ))}
        <line x1={0} x2={PW} y1={yScale(1)} y2={yScale(1)} stroke="#000" strokeWidth={2.3} strokeDasharray="8.5,4" />
      </g>
      <rect x={0} y={0} width={PW} height={PH} fill="none" stroke="#555" strokeWidth={1} />
      <text x={PW - 13} y={31} textAnchor="end" fontFamily={FONT} fontSize={24} fill="#000">
        {HALO_NAMES[idx]}
      </text>
      {yTicks.map((t, i) => (
        <line
          key={`yt${i}`}
          x1={0}
          x2={isMajor(t) ? -3.5 : -2}
          y1={yScale(t)}
          y2={yScale(t)}
          stroke="#333"
          strokeWidth={isMajor(t) ? 0.9 : 0.7}
        />
      ))}
      {col === 0 &&
        yTicks.filter(isMajor).map((t, i) => {
          const e = Math.round(Math.log10(t));
          return (
            <text key={`yl${i}`} x={-7} y={yScale(t) + 6} textAnchor="end" fontFamily={FONT} fill="#000">
              <tspan fontSize={18}>10</tspan>
              <tspan fontSize={13} dy={-8}>{e < 0 ? `\u2212${-e}` : `${e}`}</tspan>
            </text>
          );
        })}
      {xTicks.map((t, i) => (
        <line key={`xt${i}`} x1={xScale(t)} x2={xScale(t)} y1={PH} y2={PH + 3.5} stroke="#333" strokeWidth={0.9} />
      ))}
      {row === 1 &&
        xTicks.map((t, i) => (
          <text key={`xl${i}`} x={xScale(t)} y={PH + 25} textAnchor="middle" fontFamily={FONT} fontSize={18} fill="#000">
            {t === 0 ? '0' : t.toFixed(1)}
          </text>
        ))}
      {row === 1 && (
        <text x={PW / 2} y={PH + 53} textAnchor="middle" fontFamily={FONT} fontSize={24} fill="#000">
          <tspan fontStyle="italic">r</tspan>
          <tspan> / </tspan>
          <tspan fontStyle="italic">R</tspan>
          <tspan fontStyle="italic" fontSize={17} dy={5}>disk</tspan>
        </text>
      )}
      {col === 0 && (
        <text
          transform={`translate(${26 - px},${PH / 2}) rotate(-90)`}
          textAnchor="middle"
          fontFamily={FONT}
          fontSize={24}
          fill="#000"
        >
          <tspan fontStyle="italic">T</tspan>
          <tspan> / </tspan>
          <tspan fontStyle="italic">T</tspan>
          <tspan fontStyle="italic" fontSize={17} dy={5}>vir</tspan>
        </text>
      )}
    </g>
  );
}

function Colorbar() {
  const x0 = 905;
  const w = 26;
  const y0 = 59;
  const h = 493;
  const cScale = d3.scaleLinear().domain([0, 1]).range([h, 0]);
  return (
    <g transform={`translate(${x0},${y0})`}>
      <defs>
        <linearGradient id="cbarGrad" x1="0" y1="1" x2="0" y2="0">
          {CMAP_STOPS.map((s, i) => (
            <stop key={i} offset={s} stopColor={CMAP_COLORS[i]} />
          ))}
        </linearGradient>
      </defs>
      <rect x={0} y={0} width={w} height={h} fill="url(#cbarGrad)" stroke="#444" strokeWidth={0.8} />
      {CBAR_TICKS.map((t, i) => (
        <g key={i}>
          <line x1={w} x2={w + 3.5} y1={cScale(t)} y2={cScale(t)} stroke="#333" strokeWidth={0.9} />
          <text x={w + 7} y={cScale(t) + 7.5} fontFamily={FONT} fontSize={20} fill="#000">
            {t.toFixed(1)}
          </text>
        </g>
      ))}
      <text
        transform={`translate(${101},${h / 2}) rotate(-90)`}
        textAnchor="middle"
        fontFamily={FONT}
        fontSize={20}
        fill="#000"
      >
        Redshift
      </text>
    </g>
  );
}

// running-head title set in small capitals
function RunningHead() {
  const big = 22;
  const small = 17;
  return (
    <g fontFamily="Liberation Serif" fill="#222">
      <text x={501} y={20} textAnchor="middle" letterSpacing={0.5}>
        <tspan fontSize={big}>E</tspan>
        <tspan fontSize={small}>VOLUTION OF </tspan>
        <tspan fontSize={big}>HI D</tspan>
        <tspan fontSize={small}>ISKS IN </tspan>
        <tspan fontSize={big}>FOGGIE</tspan>
      </text>
      <text x={1017} y={20} textAnchor="end" fontSize={21}>
        11
      </text>
    </g>
  );
}

export default function App() {
  return (
    <svg
      width={1025}
      height={616}
      style={{ position: 'absolute', left: 0, top: 0, background: '#fff' }}
      xmlns="http://www.w3.org/2000/svg"
    >
      <rect x={0} y={0} width={1025} height={616} fill="#fff" />
      <RunningHead />
      {HALO_NAMES.map((_, i) => (
        <Panel key={i} idx={i} />
      ))}
      <Colorbar />
    </svg>
  );
}
